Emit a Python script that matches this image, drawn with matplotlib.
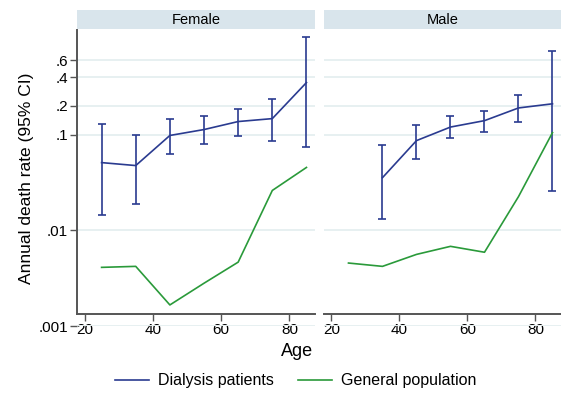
import numpy as np
import matplotlib
matplotlib.use("Agg")
import matplotlib.pyplot as plt
from matplotlib.lines import Line2D

plt.rcParams['font.family'] = ['Liberation Sans', 'DejaVu Sans']

ages = [25, 35, 45, 55, 65, 75, 85]

# annual death rate among dialysis patients, with 95% CI
female_rate = [0.051, 0.0475, 0.098, 0.113, 0.137, 0.147, 0.35]
female_lo = [0.0143, 0.019, 0.063, 0.0805, 0.096, 0.085, 0.075]
female_hi = [0.130, 0.098, 0.147, 0.155, 0.186, 0.237, 1.05]
female_general = [0.0041, 0.0042, 0.00166, 0.0028, 0.00465, 0.0261, 0.0454]

male_ages = [35, 45, 55, 65, 75, 85]
male_rate = [0.0355, 0.0866, 0.120, 0.140, 0.190, 0.210]
male_lo = [0.013, 0.056, 0.093, 0.107, 0.137, 0.026]
male_hi = [0.077, 0.126, 0.158, 0.178, 0.260, 0.75]
male_general = [0.00455, 0.0042, 0.0056, 0.0068, 0.0059, 0.0225, 0.105]

yticks = [0.001, 0.01, 0.1, 0.2, 0.4, 0.6]
ytick_labels = [".001", ".01", ".1", ".2", ".4", ".6"]
xticks = [20, 40, 60, 80]

blue = "#2a3b90"
green = "#2a9a3a"
strip_color = "#d9e5ec"
grid_color = "#e7f0f1"
axis_color = "#555555"

W, H = 561, 394
fig = plt.figure(figsize=(W / 100, H / 100), dpi=100)


def px_axes(x0, x1, y0, y1):
    return fig.add_axes([x0 / W, 1 - y1 / H, (x1 - x0) / W, (y1 - y0) / H])


def panel(ax, title, x, rate, lo, hi, general_x, general, show_y):
    ax.set_yscale("log")
    ax.set_ylim(0.001, 1.24)
    ax.set_xlim(17.8, 87.5)
    rate = np.array(rate)
    yerr = [rate - np.array(lo), np.array(hi) - rate]
    ax.errorbar(x, rate, yerr=yerr, color=blue, lw=1.2, capsize=3.2,
                capthick=1.2, elinewidth=1.2, zorder=3)
    ax.plot(general_x, general, color=green, lw=1.2, zorder=3)
    ax.set_yticks(yticks)
    ax.yaxis.set_minor_locator(matplotlib.ticker.NullLocator())
    ax.grid(axis="y", color=grid_color, lw=1.4, zorder=0)
    ax.set_axisbelow(True)
    ax.set_xticks(xticks)
    ax.tick_params(axis="x", labelsize=11, length=5, width=1, color=axis_color,
                   pad=1.5)
    for s in ["top", "right"]:
        ax.spines[s].set_visible(False)
    # x axis sits a little above the .001 line
    ax.spines["bottom"].set_position(("outward", -12 * 0.72))
    ax.spines["bottom"].set_color(axis_color)
    ax.spines["bottom"].set_linewidth(1.4)
    if show_y:
        ax.set_yticklabels(ytick_labels)
        ax.tick_params(axis="y", labelsize=11, length=5, width=1,
                       color=axis_color, pad=1.5)
        ax.spines["left"].set_color(axis_color)
        ax.spines["left"].set_linewidth(1.4)
        ax.spines["left"].set_bounds(0.001334, 1.24)
        ax.set_ylabel("Annual death rate (95% CI)", fontsize=12.5, labelpad=3)
    else:
        ax.spines["left"].set_visible(False)
        ax.tick_params(axis="y", length=0, labelleft=False)

    # strip header across the top of the panel
    pos = ax.get_position()
    fig.patches.append(matplotlib.patches.Rectangle(
        (pos.x0, 1 - 29 / H), pos.width, 19 / H, transform=fig.transFigure,
        facecolor=strip_color, edgecolor="none", zorder=0))
    fig.text(pos.x0 + pos.width / 2, 1 - 19.5 / H, title, ha="center",
             va="center", fontsize=10.5)


ax1 = px_axes(77, 315, 30, 326)
panel(ax1, "Female", ages, female_rate, female_lo, female_hi,
      ages, female_general, True)
ax2 = px_axes(324, 561, 30, 326)
panel(ax2, "Male", male_ages, male_rate, male_lo, male_hi,
      ages, male_general, False)

fig.text(297 / W, 1 - 351 / H, "Age", ha="center", va="center", fontsize=13)

handles = [Line2D([], [], color=blue, lw=1.2),
           Line2D([], [], color=green, lw=1.2)]
fig.legend(handles, ["Dialysis patients", "General population"],
           loc="center", bbox_to_anchor=(296 / W, 1 - 381 / H), ncol=2,
           frameon=False, fontsize=11.5, handlelength=2.1, columnspacing=1.5,
           handletextpad=0.6)

fig.savefig("out.png", dpi=100)
